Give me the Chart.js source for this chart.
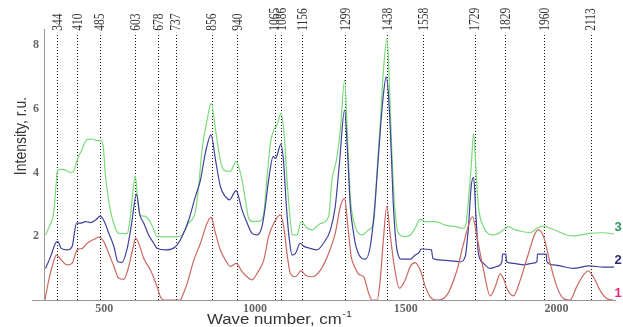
<!DOCTYPE html>
<html>
<head>
<meta charset="utf-8">
<script src="https://cdn.jsdelivr.net/npm/chart.js@4.4.1/dist/chart.umd.min.js"></script>
<style>
  html, body { margin: 0; padding: 0; background: #fff; }
  #wrap { width: 623px; height: 327px; position: relative; }
</style>
</head>
<body>
<div id="wrap"><canvas id="spectra"></canvas></div>
<script>
"use strict";

// ===== DATA =====
const peakLabels = [344, 410, 485, 603, 678, 737, 856, 940, 1065, 1086, 1156, 1299, 1438, 1558, 1729, 1829, 1960, 2113];
const xTicks = [500, 1000, 1500, 2000];
const yTicks = [2, 4, 6, 8];
const seriesNames = ['1', '2', '3'];

// series 3 (green)
const greenX = [305, 320, 332, 340, 344, 355, 371, 388, 397, 410, 425, 443, 460, 475, 487, 496, 504, 512, 520, 535, 548, 565, 576, 585, 592, 603, 610, 618, 633, 645, 660, 675, 700, 730, 752, 779, 802, 813, 824, 841, 855, 869, 885, 896, 918, 937, 957, 968, 979, 995, 1018, 1029, 1040, 1051, 1062, 1073, 1087, 1098, 1106, 1117, 1123, 1139, 1153, 1173, 1189, 1217, 1244, 1255, 1270, 1283, 1297, 1308, 1316, 1329, 1343, 1355, 1377, 1393, 1405, 1416, 1426, 1438, 1446, 1454, 1463, 1476, 1498, 1515, 1531, 1548, 1565, 1598, 1631, 1664, 1692, 1700, 1708, 1717, 1725, 1734, 1741, 1758, 1786, 1808, 1824, 1841, 1863, 1891, 1913, 1935, 1957, 1979, 2007, 2034, 2056, 2109, 2156, 2191];
const greenY = [2.04, 2.35, 2.72, 3.6, 4.05, 4.1, 4.08, 4.0, 4.02, 4.39, 4.7, 5.04, 5.05, 5.0, 5.0, 4.85, 3.87, 3.3, 2.82, 2.3, 2.09, 2.08, 2.09, 2.5, 3.14, 3.89, 3.2, 2.67, 2.63, 2.55, 2.3, 1.99, 1.98, 1.98, 2.0, 2.4, 2.77, 3.56, 4.7, 5.65, 6.17, 5.33, 4.39, 4.08, 4.03, 4.34, 3.76, 3.14, 2.56, 2.46, 2.48, 2.72, 3.87, 4.92, 5.33, 5.49, 5.86, 5.02, 3.76, 2.51, 2.04, 2.04, 2.46, 2.25, 2.2, 2.4, 2.61, 3.76, 4.39, 5.33, 6.9, 4.81, 3.24, 2.4, 2.09, 2.04, 2.2, 2.4, 4.08, 5.65, 7.22, 8.21, 6.69, 4.6, 2.93, 2.09, 1.99, 2.04, 2.25, 2.53, 2.46, 2.46, 2.35, 2.3, 2.25, 2.4, 3.14, 4.18, 5.23, 3.87, 2.93, 2.3, 2.04, 2.09, 2.2, 2.3, 2.2, 2.14, 2.11, 2.25, 2.32, 2.25, 2.14, 2.04, 2.01, 2.09, 2.11, 2.07];

// series 2 (blue)
const blueX = [305, 322, 338, 346, 357, 377, 393, 408, 421, 438, 454, 471, 487, 500, 515, 532, 545, 559, 576, 589, 607, 618, 631, 647, 664, 675, 703, 736, 758, 780, 802, 819, 835, 854, 869, 885, 902, 915, 937, 957, 974, 990, 1007, 1023, 1034, 1045, 1060, 1068, 1086, 1095, 1104, 1114, 1123, 1134, 1150, 1161, 1183, 1205, 1227, 1250, 1266, 1280, 1297, 1307, 1316, 1327, 1333, 1343, 1355, 1366, 1382, 1397, 1410, 1423, 1435, 1443, 1452, 1459, 1471, 1487, 1515, 1531, 1545, 1550, 1585, 1590, 1620, 1660, 1681, 1697, 1708, 1717, 1725, 1733, 1741, 1758, 1780, 1802, 1819, 1821, 1832, 1834, 1857, 1891, 1918, 1935, 1937, 1966, 1968, 1990, 2012, 2056, 2109, 2156, 2191];
const blueY = [0.99, 1.36, 1.78, 1.83, 1.62, 1.57, 1.67, 2.41, 2.41, 2.46, 2.43, 2.51, 2.63, 2.46, 2.09, 1.67, 1.2, 1.18, 1.62, 2.3, 3.31, 2.67, 2.41, 2.04, 1.78, 1.62, 1.57, 1.67, 1.99, 2.51, 3.24, 3.76, 4.6, 5.18, 4.39, 3.56, 3.24, 3.14, 3.43, 2.82, 2.41, 2.09, 2.04, 2.3, 2.93, 3.76, 4.5, 4.44, 4.89, 4.29, 2.93, 1.88, 1.41, 1.46, 1.78, 1.69, 1.62, 1.57, 1.78, 2.2, 2.93, 4.29, 5.96, 4.6, 2.93, 2.09, 1.75, 1.45, 1.3, 1.28, 1.67, 2.93, 4.6, 6.17, 7.0, 6.38, 4.6, 2.93, 1.57, 1.28, 1.28, 1.41, 1.5, 1.6, 1.57, 1.3, 1.25, 1.22, 1.2, 1.36, 2.3, 3.56, 3.85, 2.61, 1.46, 1.15, 0.99, 1.05, 1.2, 1.44, 1.44, 1.2, 1.15, 1.1, 1.15, 1.2, 1.44, 1.44, 1.2, 1.1, 1.07, 0.99, 1.07, 1.03, 1.03];

// series 1 (red)
const redX = [303, 316, 327, 341, 355, 377, 393, 410, 427, 443, 465, 482, 498, 515, 532, 548, 565, 581, 596, 604, 618, 631, 653, 675, 686, 697, 753, 758, 775, 797, 819, 841, 854, 869, 885, 902, 918, 937, 957, 979, 990, 1007, 1029, 1045, 1062, 1084, 1095, 1106, 1117, 1134, 1153, 1167, 1189, 1217, 1244, 1266, 1283, 1297, 1308, 1319, 1333, 1345, 1360, 1377, 1388, 1405, 1415, 1425, 1437, 1449, 1462, 1479, 1498, 1515, 1531, 1548, 1565, 1581, 1603, 1637, 1670, 1692, 1722, 1736, 1758, 1780, 1797, 1813, 1826, 1835, 1857, 1880, 1907, 1929, 1940, 1957, 1979, 2001, 2023, 2045, 2067, 2089, 2105, 2122, 2144, 2166, 2189];
const redY = [0, 0.63, 1.05, 1.41, 1.28, 1.1, 1.15, 1.57, 1.62, 1.78, 1.9, 1.97, 1.83, 1.46, 1.05, 0.68, 0.65, 1.05, 1.67, 1.94, 1.67, 1.3, 0.94, 0.42, 0.1, 0, 0, 0.1, 0.52, 1.25, 1.78, 2.41, 2.59, 2.09, 1.57, 1.25, 1.05, 1.15, 0.89, 0.68, 0.63, 0.84, 1.25, 1.99, 2.41, 2.67, 2.3, 1.46, 0.84, 0.73, 0.92, 0.78, 0.73, 0.94, 1.46, 2.09, 2.93, 3.19, 2.3, 1.36, 0.99, 0.8, 0.73, 0.21, 0, 0, 0.6, 1.8, 2.93, 1.99, 1.05, 0.37, 0.63, 1.05, 1.17, 0.94, 0.42, 0.1, 0, 0.16, 0.94, 1.78, 2.61, 1.99, 0.94, 0.13, 0.42, 0.82, 0.63, 0.37, 0.13, 0.63, 1.46, 2.09, 2.2, 1.99, 1.15, 0.42, 0.05, 0, 0.42, 0.78, 0.91, 0.73, 0.31, 0.05, 0];

const lineColors = ['#cb6762', '#40409e', '#7adb7a'];
const tagColors = ['#e0287a', '#2b2b7c', '#2f9e5c'];

function toPoints(xs, ys) {
    return xs.map((x, i) => ({ x: x, y: ys[i] }));
}

// dotted peak markers, peak labels, axis titles, curve tags
const decorPlugin = {
    id: 'decor',
    beforeDatasetsDraw(chart) {
        const ctx = chart.ctx;
        const xs = chart.scales.x, ys = chart.scales.y;
        ctx.save();
        ctx.strokeStyle = '#111';
        ctx.lineWidth = 1;
        ctx.setLineDash([1, 2]);
        const top = ys.getPixelForValue(8.38), bottom = ys.getPixelForValue(0);
        peakLabels.forEach(p => {
            const px = Math.round(xs.getPixelForValue(p)) + 0.5;
            ctx.beginPath();
            ctx.moveTo(px, bottom);
            ctx.lineTo(px, top);
            ctx.stroke();
        });
        ctx.restore();
    },
    afterDraw(chart) {
        const ctx = chart.ctx;
        const xs = chart.scales.x, ys = chart.scales.y;
        ctx.save();

        // x axis line runs a bit left of the y axis
        ctx.strokeStyle = '#9a9a9a';
        ctx.lineWidth = 1;
        const y0 = Math.round(ys.getPixelForValue(0)) + 0.5;
        ctx.beginPath();
        ctx.moveTo(32, y0);
        ctx.lineTo(chart.chartArea.left, y0);
        ctx.stroke();

        // peak labels
        ctx.fillStyle = '#333';
        ctx.font = '11.5px "Liberation Serif", "Times New Roman", serif';
        ctx.textAlign = 'left';
        ctx.textBaseline = 'middle';
        const labelBase = ys.getPixelForValue(8.38) - 2;
        peakLabels.forEach(p => {
            ctx.save();
            ctx.translate(xs.getPixelForValue(p) + 1, labelBase);
            ctx.rotate(-Math.PI / 2);
            ctx.scale(1, 1.2);
            ctx.fillText(String(p), 0, 0);
            ctx.restore();
        });

        // x title with superscript
        ctx.fillStyle = '#333';
        ctx.textBaseline = 'middle';
        ctx.textAlign = 'left';
        ctx.save();
        ctx.translate(207, 320);
        ctx.scale(1.2, 1);
        ctx.font = '14px "Liberation Sans", Arial, sans-serif';
        const main = 'Wave number, cm';
        ctx.fillText(main, 0, 0);
        const w = ctx.measureText(main).width;
        ctx.font = '9px "Liberation Sans", Arial, sans-serif';
        ctx.fillText('-1', w + 0.5, -5);
        ctx.restore();

        // y title
        ctx.textAlign = 'center';
        ctx.font = '14px "Liberation Sans", Arial, sans-serif';
        ctx.save();
        ctx.translate(22, 136);
        ctx.rotate(-Math.PI / 2);
        ctx.scale(1, 1.15);
        ctx.fillText('Intensity, r.u.', 0, 0);
        ctx.restore();

        // curve tags at the right end
        ctx.font = 'bold 13px "Liberation Sans", Arial, sans-serif';
        chart.data.datasets.forEach((ds, i) => {
            const last = ds.data[ds.data.length - 1];
            ctx.fillStyle = tagColors[i];
            ctx.fillText(seriesNames[i], 618, ys.getPixelForValue(last.y) - 7);
        });
        ctx.restore();
    }
};

const tickFont = { family: '"Liberation Serif", "Times New Roman", serif', size: 12, weight: 'bold' };

new Chart(document.getElementById('spectra'), {
    type: 'line',
    data: {
        datasets: [
            { label: seriesNames[0], data: toPoints(redX, redY), borderColor: lineColors[0] },
            { label: seriesNames[1], data: toPoints(blueX, blueY), borderColor: lineColors[1] },
            { label: seriesNames[2], data: toPoints(greenX, greenY), borderColor: lineColors[2] }
        ]
    },
    options: {
        responsive: true,
        maintainAspectRatio: false,
        animation: false,
        layout: { padding: { top: 29, right: 8, left: 0, bottom: 0 } },
        elements: {
            point: { radius: 0 },
            line: { borderWidth: 1.2, tension: 0.3, cubicInterpolationMode: 'monotone', fill: false }
        },
        plugins: {
            legend: { display: false },
            tooltip: { enabled: false }
        },
        scales: {
            x: {
                type: 'linear',
                min: 300,
                max: 2194,
                afterFit: s => { s.height = 27; },
                afterBuildTicks: s => { s.ticks = xTicks.map(v => ({ value: v })); },
                grid: { display: false, drawTicks: false },
                border: { display: true, color: '#9a9a9a' },
                ticks: { font: tickFont, color: '#666', padding: 2, maxRotation: 0, callback: v => String(v) }
            },
            y: {
                type: 'linear',
                min: 0,
                max: 8.5,
                afterFit: s => { s.width = 44; },
                afterBuildTicks: s => { s.ticks = yTicks.map(v => ({ value: v })); },
                grid: { display: false, drawTicks: false },
                border: { display: true, color: '#9a9a9a' },
                ticks: { font: tickFont, color: '#666', padding: 5, callback: v => String(v) }
            }
        }
    },
    plugins: [decorPlugin]
});
</script>
</body>
</html>
